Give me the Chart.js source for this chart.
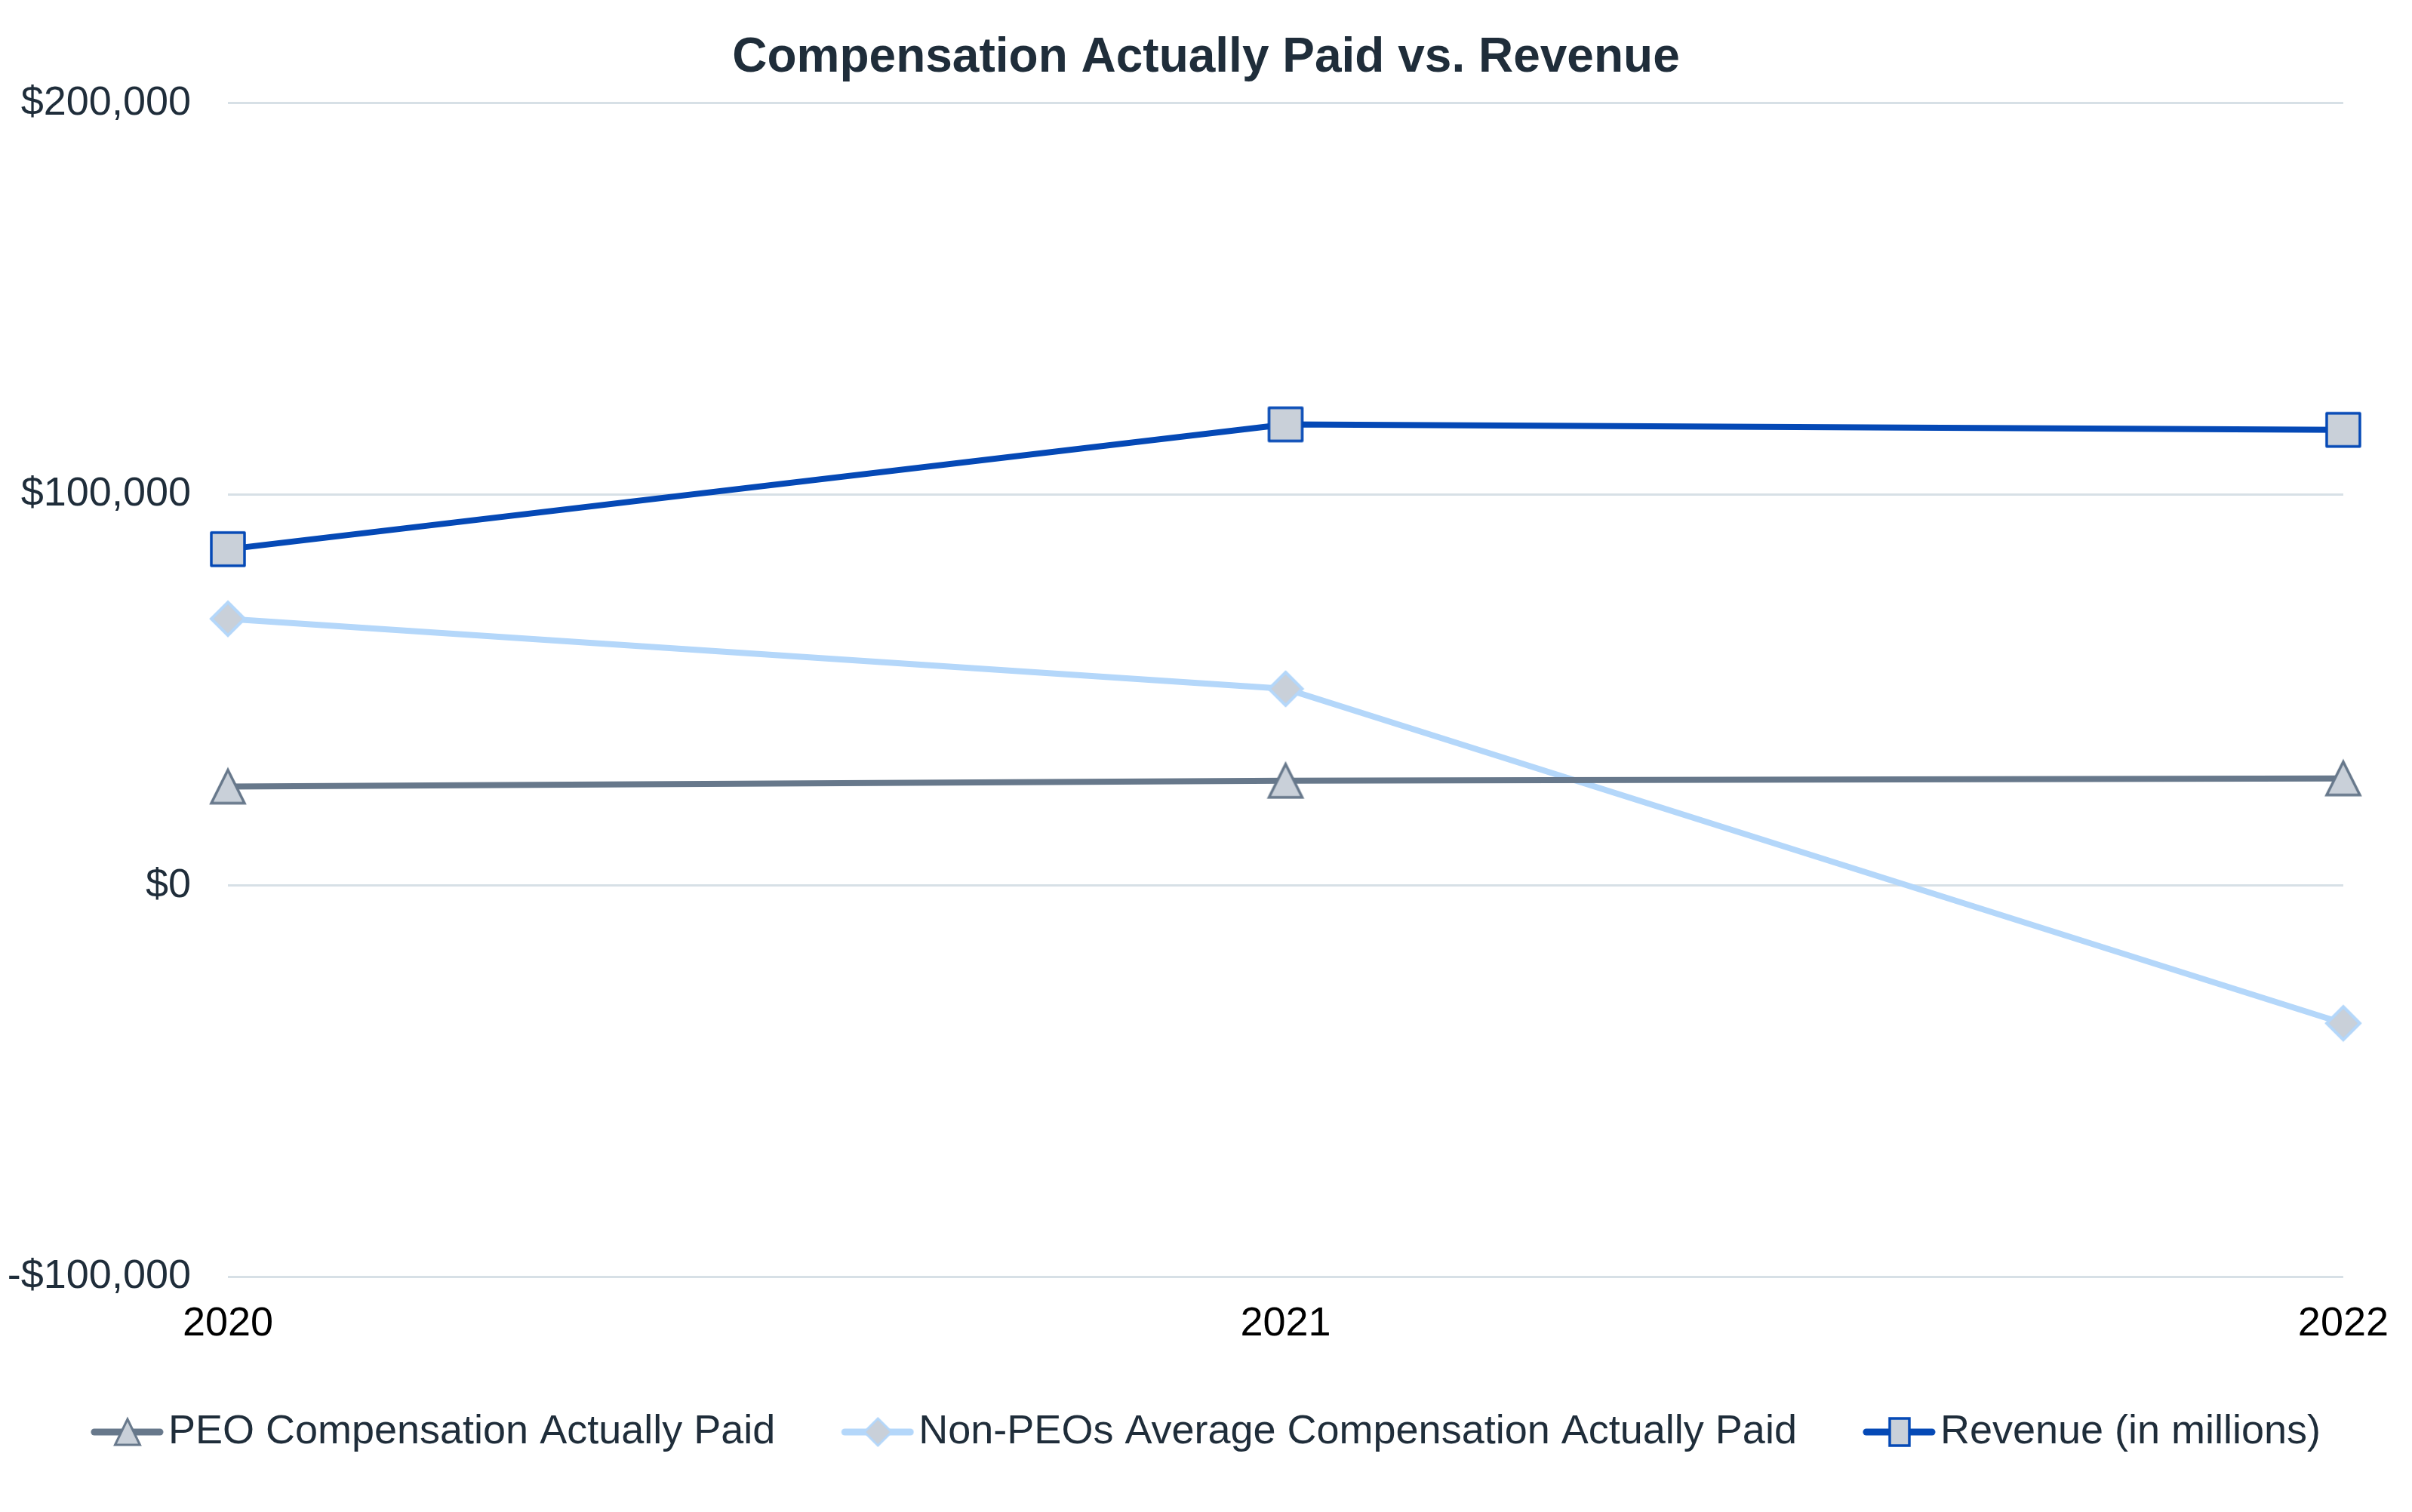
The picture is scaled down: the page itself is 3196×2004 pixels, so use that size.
<!DOCTYPE html>
<html>
<head>
<meta charset="utf-8">
<script src="https://cdn.jsdelivr.net/npm/chart.js@4/dist/chart.umd.min.js"></script>
<style>
  html, body { margin: 0; padding: 0; background: #ffffff; }
  #wrap { width: 3196px; height: 2004px; position: relative; }
</style>
</head>
<body>
<div id="wrap"><canvas id="c" width="3196" height="2004"></canvas></div>
<script>
// ---- data ----
const years = ["2020", "2021", "2022"];
const peoCap = [25300, 26800, 27400];
const nonPeoCap = [68200, 50300, -35200];
const revenue = [86000, 117900, 116500];
const seriesNames = [
  "PEO Compensation Actually Paid",
  "Non-PEOs Average Compensation Actually Paid",
  "Revenue (in millions)"
];
const yTicks = [-100000, 0, 100000, 200000];

// ---- styles ----
const FONT = "'Liberation Sans', Arial, sans-serif";
const C_PEO = "#67788b";
const C_NON = "#b4d7fa";
const C_REV = "#0549b6";
const C_FILL = "#c9d0d9";
const TEXT = "#1f2d3a";

function mk(w, h, fn) {
  const c = document.createElement("canvas");
  c.width = w; c.height = h;
  fn(c.getContext("2d"), w, h);
  return c;
}
function drawTri(ctx, cx, cy, w, h, lw) {
  ctx.beginPath();
  ctx.moveTo(cx, cy - h / 2);
  ctx.lineTo(cx + w / 2, cy + h / 2);
  ctx.lineTo(cx - w / 2, cy + h / 2);
  ctx.closePath();
  ctx.fillStyle = C_FILL; ctx.fill();
  ctx.lineWidth = lw; ctx.strokeStyle = C_PEO; ctx.lineJoin = "miter"; ctx.stroke();
}
function drawDia(ctx, cx, cy, r, lw) {
  ctx.beginPath();
  ctx.moveTo(cx, cy - r); ctx.lineTo(cx + r, cy); ctx.lineTo(cx, cy + r); ctx.lineTo(cx - r, cy);
  ctx.closePath();
  ctx.fillStyle = C_FILL; ctx.fill();
  ctx.lineWidth = lw; ctx.strokeStyle = C_NON; ctx.lineJoin = "miter"; ctx.stroke();
}
function drawSq(ctx, cx, cy, s, lw) {
  ctx.beginPath();
  ctx.rect(cx - s / 2, cy - s / 2, s, s);
  ctx.fillStyle = C_FILL; ctx.fill();
  ctx.lineWidth = lw; ctx.strokeStyle = C_REV; ctx.lineJoin = "round"; ctx.stroke();
}

const triImg = mk(54, 54, (ctx) => drawTri(ctx, 27, 27, 44, 44, 3.5));
const diaImg = mk(54, 54, (ctx) => drawDia(ctx, 27, 27, 22, 4));
const sqImg = mk(54, 54, (ctx) => drawSq(ctx, 27, 27, 44, 3.5));

function legendImg(color, markerFn) {
  return mk(117, 56, (ctx) => {
    ctx.beginPath();
    ctx.moveTo(25, 28); ctx.lineTo(112, 28);
    ctx.lineWidth = 9; ctx.lineCap = "round"; ctx.strokeStyle = color; ctx.stroke();
    markerFn(ctx, 69, 28);
  });
}
const legTri = legendImg(C_PEO, (ctx, x, y) => drawTri(ctx, x, y, 33, 34, 3));
const legDia = legendImg(C_NON, (ctx, x, y) => drawDia(ctx, x, y, 18, 3));
const legSq = legendImg(C_REV, (ctx, x, y) => {
  ctx.beginPath(); ctx.rect(x - 13, y - 18, 26, 36);
  ctx.fillStyle = C_FILL; ctx.fill(); ctx.lineWidth = 3.5; ctx.strokeStyle = C_REV; ctx.stroke();
});
const legendImgs = [legTri, legDia, legSq];

function money(v) {
  const a = Math.abs(v).toLocaleString("en-US");
  return (v < 0 ? "-$" : "$") + a;
}

new Chart(document.getElementById("c"), {
  type: "line",
  data: {
    labels: years,
    datasets: [
      { label: seriesNames[0], data: peoCap, borderColor: C_PEO, backgroundColor: C_FILL,
        borderWidth: 8, pointStyle: triImg, clip: false, tension: 0 },
      { label: seriesNames[1], data: nonPeoCap, borderColor: C_NON, backgroundColor: C_FILL,
        borderWidth: 8, pointStyle: diaImg, clip: false, tension: 0 },
      { label: seriesNames[2], data: revenue, borderColor: C_REV, backgroundColor: C_FILL,
        borderWidth: 8, pointStyle: sqImg, clip: false, tension: 0 }
    ]
  },
  options: {
    responsive: false,
    animation: false,
    devicePixelRatio: 1,
    layout: { padding: { left: 0, right: 0, top: 0, bottom: 69 } },
    plugins: {
      title: {
        display: true,
        text: "Compensation Actually Paid vs. Revenue",
        color: TEXT,
        font: { family: FONT, size: 64, weight: "bold", lineHeight: 1.2 },
        padding: { top: 39, bottom: 21 }
      },
      legend: {
        display: true,
        position: "bottom",
        labels: {
          usePointStyle: true,
          pointStyleWidth: 75,
          padding: 88,
          color: TEXT,
          font: { family: FONT, size: 54, lineHeight: 1.2 },
          generateLabels: (chart) => {
            const items = Chart.defaults.plugins.legend.labels.generateLabels(chart);
            items.forEach((it) => { it.pointStyle = legendImgs[it.datasetIndex]; });
            return items;
          }
        }
      },
      tooltip: { enabled: false }
    },
    scales: {
      x: {
        type: "category",
        offset: false,
        grid: { display: false, drawTicks: false },
        border: { display: false },
        ticks: { color: "#000000", font: { family: FONT, size: 54, lineHeight: 1.2 }, padding: 31, maxRotation: 0, autoSkip: false },
        afterFit: (s) => { s.height -= 36; }
      },
      y: {
        min: yTicks[0],
        max: yTicks[yTicks.length - 1],
        afterBuildTicks: (s) => { s.ticks = yTicks.map(v => ({ value: v })); },
        grid: { color: "#d7e0e6", lineWidth: 3, drawTicks: false },
        border: { display: false },
        ticks: { color: TEXT, font: { family: FONT, size: 54, lineHeight: 1.2 }, padding: 49, callback: (v) => money(v) },
        afterFit: (s) => { s.width = 302; }
      },
      yR: {
        position: "right",
        display: true,
        grid: { display: false, drawTicks: false },
        border: { display: false },
        ticks: { display: false },
        afterFit: (s) => { s.width = 90; }
      }
    }
  }
});
</script>
</body>
</html>
